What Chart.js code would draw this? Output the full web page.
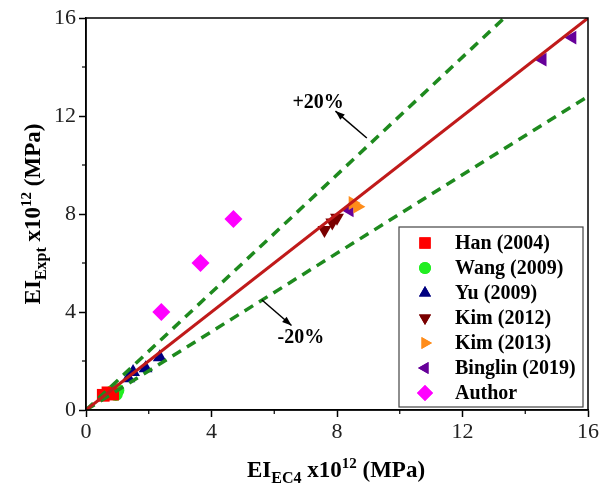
<!DOCTYPE html>
<html>
<head>
<meta charset="utf-8">
<script src="https://cdn.jsdelivr.net/npm/chart.js@4/dist/chart.umd.min.js"></script>
<style>
body { margin: 0; background: #fff; }
</style>
</head>
<body>
<canvas id="myChart" width="612" height="495"></canvas>
<script>
// series (x = EI_EC4, y = EI_Expt, both x10^12 MPa)
var seriesNames = ["Han (2004)", "Wang (2009)", "Yu (2009)", "Kim (2012)", "Kim (2013)", "Binglin (2019)", "Author"];
var hanX = [0.55, 0.7, 0.85];
var hanY = [0.6, 0.7, 0.65];
var wangX = [0.85, 1.0, 0.95];
var wangY = [0.75, 0.8, 0.65];
var yuX = [1.35, 1.5, 1.9, 2.35];
var yuY = [1.3, 1.55, 1.7, 2.15];
var kim12X = [7.6, 7.85, 8.0];
var kim12Y = [7.35, 7.65, 7.85];
var kim13X = [8.5, 8.65];
var kim13Y = [8.45, 8.3];
var binglinX = [8.4, 14.55, 15.5];
var binglinY = [8.15, 14.3, 15.2];
var authorX = [2.4, 3.65, 4.7];
var authorY = [4.0, 6.0, 7.8];

// reference lines: 1:1 and +/-20%
var equalX = [0, 16], equalY = [0, 16];
var plusX = [0, 13.33], plusY = [0, 16];
var minusX = [0, 16], minusY = [0, 12.8];

var axisTicks = [0, 4, 8, 12, 16];
var minorTicks = [2, 6, 10, 14];

var markerColors = ["#FF0000", "#22EE22", "#000080", "#7A0000", "#FF8C1A", "#660099", "#FF00FF"];
var markerStyles = ["rect", "circle", "triangle", "triangle", "triangle", "triangle", "rectRot"];
var markerRotation = [0, 0, 0, 180, 90, -90, 0];
var markerSize = [9, 7, 8, 8, 8, 8, 9];

function pts(xs, ys) {
  return xs.map(function (x, i) { return { x: x, y: ys[i] }; });
}

var allX = [hanX, wangX, yuX, kim12X, kim13X, binglinX, authorX];
var allY = [hanY, wangY, yuY, kim12Y, kim13Y, binglinY, authorY];

var datasets = seriesNames.map(function (name, i) {
  return {
    type: "scatter",
    label: name,
    data: pts(allX[i], allY[i]),
    backgroundColor: markerColors[i],
    borderColor: markerColors[i],
    borderWidth: 0,
    pointStyle: markerStyles[i],
    rotation: markerRotation[i],
    pointRadius: markerSize[i],
    order: 2
  };
});

datasets.push({
  type: "line", label: "1:1", data: pts(equalX, equalY),
  borderColor: "#C01A1A", borderWidth: 3, pointRadius: 0, order: 1
});
datasets.push({
  type: "line", label: "+20%", data: pts(plusX, plusY),
  borderColor: "#1E8A1E", borderWidth: 3.5, borderDash: [10, 7], pointRadius: 0, order: 1
});
datasets.push({
  type: "line", label: "-20%", data: pts(minusX, minusY),
  borderColor: "#1E8A1E", borderWidth: 3.5, borderDash: [10, 7], pointRadius: 0, order: 1
});

var serif = "'Liberation Serif', 'Times New Roman', serif";

// draw text made of pieces with sub/superscripts, centered at (cx, cy)
function richText(ctx, parts, cx, cy) {
  var w = 0;
  parts.forEach(function (p) {
    ctx.font = "bold " + p.size + "px " + serif;
    w += ctx.measureText(p.t).width;
  });
  var x = cx - w / 2;
  ctx.textAlign = "left";
  ctx.textBaseline = "alphabetic";
  parts.forEach(function (p) {
    ctx.font = "bold " + p.size + "px " + serif;
    ctx.fillText(p.t, x, cy + p.dy);
    x += ctx.measureText(p.t).width;
  });
}

function arrow(ctx, x1, y1, x2, y2) {
  ctx.beginPath();
  ctx.moveTo(x1, y1);
  ctx.lineTo(x2, y2);
  ctx.stroke();
  var a = Math.atan2(y2 - y1, x2 - x1);
  ctx.beginPath();
  ctx.moveTo(x2, y2);
  ctx.lineTo(x2 - 10 * Math.cos(a - 0.35), y2 - 10 * Math.sin(a - 0.35));
  ctx.lineTo(x2 - 10 * Math.cos(a + 0.35), y2 - 10 * Math.sin(a + 0.35));
  ctx.closePath();
  ctx.fill();
}

var extras = {
  id: "extras",
  afterDatasetsDraw: function (chart) {
    var ctx = chart.ctx, xs = chart.scales.x, ys = chart.scales.y, area = chart.chartArea;
    ctx.save();
    ctx.strokeStyle = "#000";
    ctx.lineWidth = 1.5;
    ctx.strokeRect(area.left, area.top, area.right - area.left, area.bottom - area.top);

    // minor ticks
    ctx.lineWidth = 1.2;
    minorTicks.forEach(function (v) {
      var px = xs.getPixelForValue(v);
      ctx.beginPath(); ctx.moveTo(px, area.bottom); ctx.lineTo(px, area.bottom + 4); ctx.stroke();
      var py = ys.getPixelForValue(v);
      ctx.beginPath(); ctx.moveTo(area.left, py); ctx.lineTo(area.left - 4, py); ctx.stroke();
    });

    // annotations
    ctx.fillStyle = "#000";
    ctx.lineWidth = 1.5;
    arrow(ctx, xs.getPixelForValue(8.95), ys.getPixelForValue(11.1), xs.getPixelForValue(7.95), ys.getPixelForValue(12.2));
    arrow(ctx, xs.getPixelForValue(5.6), ys.getPixelForValue(4.5), xs.getPixelForValue(6.55), ys.getPixelForValue(3.45));
    ctx.font = "bold 20px " + serif;
    ctx.textAlign = "center";
    ctx.textBaseline = "middle";
    ctx.fillText("+20%", xs.getPixelForValue(7.4), ys.getPixelForValue(12.55));
    ctx.fillText("-20%", xs.getPixelForValue(6.85), ys.getPixelForValue(2.95));

    // legend box
    ctx.strokeStyle = "#444";
    ctx.lineWidth = 1.2;
    ctx.strokeRect(399, 227, 184, 180);
    ctx.font = "bold 20px " + serif;
    ctx.textAlign = "left";
    ctx.textBaseline = "middle";
    seriesNames.forEach(function (name, i) {
      var y = 243 + i * 25;
      ctx.save();
      ctx.fillStyle = markerColors[i];
      ctx.strokeStyle = markerColors[i];
      Chart.helpers.drawPoint(ctx, {
        pointStyle: markerStyles[i],
        rotation: markerRotation[i],
        radius: markerSize[i] - 1,
        borderWidth: 0
      }, 425, y);
      ctx.fill();
      ctx.restore();
      ctx.fillStyle = "#000";
      ctx.fillText(name, 455, y + 1);
    });

    // axis titles
    ctx.fillStyle = "#000";
    richText(ctx, [
      { t: "EI", size: 23, dy: 0 },
      { t: "EC4", size: 16, dy: 6 },
      { t: " x10", size: 23, dy: 0 },
      { t: "12", size: 15, dy: -9 },
      { t: " (MPa)", size: 23, dy: 0 }
    ], 336, 477);
    ctx.save();
    ctx.translate(40, 214);
    ctx.rotate(-Math.PI / 2);
    richText(ctx, [
      { t: "EI", size: 23, dy: 0 },
      { t: "Expt", size: 16, dy: 6 },
      { t: " x10", size: 23, dy: 0 },
      { t: "12", size: 15, dy: -9 },
      { t: " (MPa)", size: 23, dy: 0 }
    ], 0, 0);
    ctx.restore();
    ctx.restore();
  }
};

new Chart("myChart", {
  type: "scatter",
  data: { datasets: datasets },
  options: {
    responsive: false,
    animation: false,
    layout: { padding: { top: 18, right: 24, left: 0, bottom: 0 } },
    plugins: { legend: { display: false }, tooltip: { enabled: false } },
    scales: {
      x: {
        type: "linear", min: 0, max: 16,
        afterFit: function (s) { s.height = 85; },
        afterBuildTicks: function (s) { s.ticks = axisTicks.map(function (v) { return { value: v }; }); },
        ticks: { font: { family: serif, size: 22 }, color: "#222", padding: 2 },
        grid: { drawOnChartArea: false, tickLength: 7, color: "#000", tickWidth: 1.5 },
        border: { display: true, color: "#000", width: 1.5 }
      },
      y: {
        type: "linear", min: 0, max: 16,
        afterFit: function (s) { s.width = 86; },
        afterBuildTicks: function (s) { s.ticks = axisTicks.map(function (v) { return { value: v }; }); },
        ticks: { font: { family: serif, size: 22 }, color: "#222", padding: 3 },
        grid: { drawOnChartArea: false, tickLength: 7, color: "#000", tickWidth: 1.5 },
        border: { display: true, color: "#000", width: 1.5 }
      }
    }
  },
  plugins: [extras]
});
</script>
</body>
</html>
